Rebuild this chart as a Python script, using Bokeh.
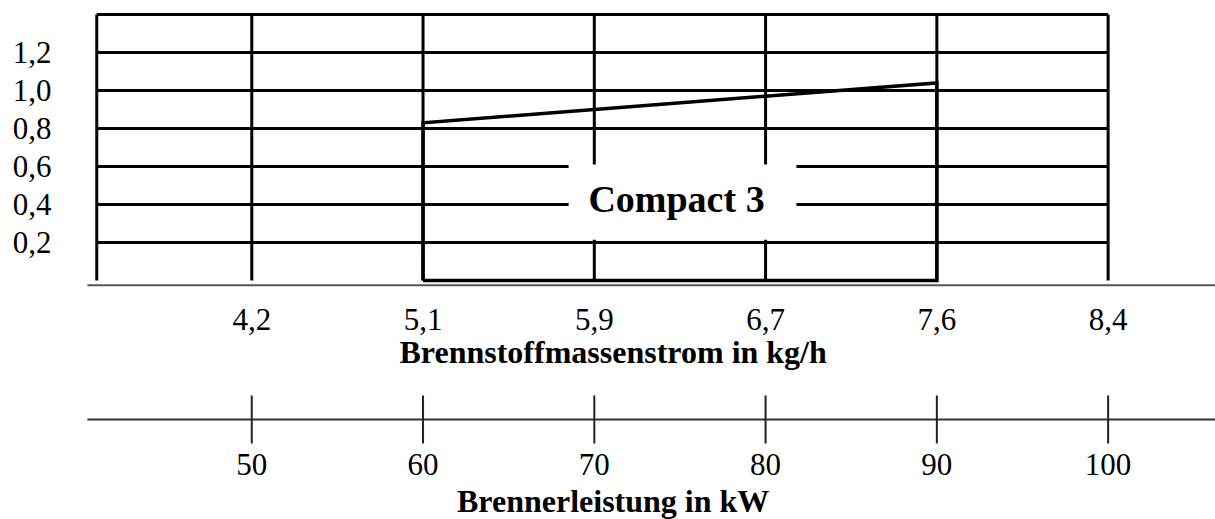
from bokeh.plotting import figure
from bokeh.models import Range1d, FixedTicker
from bokeh.core.properties import value
from bokeh.embed import file_html
from bokeh.resources import INLINE

# ---- data ----
kw_ticks = [50, 60, 70, 80, 90, 100]
kgh_labels = ["4,2", "5,1", "5,9", "6,7", "7,6", "8,4"]
kw_labels = ["50", "60", "70", "80", "90", "100"]
y_ticks = [0.2, 0.4, 0.6, 0.8, 1.0, 1.2]
y_labels = ["0,2", "0,4", "0,6", "0,8", "1,0", "1,2"]
range_kw = [60, 90]          # Compact 3 working range (kW)
range_y = [0.83, 1.04]       # values at range ends
series_name = "Compact 3"
title_kgh = "Brennstoffmassenstrom in kg/h"
title_kw = "Brennerleistung in kW"

# ---- layout constants ----
GRID_LEFT = 40.95
GRID_TOP = 1.4
LINE_LEFT = 40.4
X_END = 106.27
BASE_Y = -0.025
AX2_Y = -0.7316
FONT = value("Liberation Serif")

p = figure(width=1215, height=519, output_backend="svg", toolbar_location=None,
           x_range=Range1d(40, X_END), y_range=Range1d(-1.2579, 1.4737),
           x_axis_location=None, min_border_left=80, min_border_right=0,
           min_border_top=0, min_border_bottom=0)
p.outline_line_color = None
p.xgrid.visible = False
p.ygrid.visible = False
p.background_fill_color = "white"

ya = p.yaxis[0]
ya.ticker = FixedTicker(ticks=y_ticks)
ya.major_label_overrides = {t: l for t, l in zip(y_ticks, y_labels)}
ya.axis_line_color = None
ya.major_tick_line_color = None
ya.minor_tick_line_color = None
ya.major_tick_out = 0
ya.major_tick_in = 0
ya.major_label_standoff = 29
ya.major_label_text_font = "Liberation Serif"
ya.major_label_text_font_size = "31px"
ya.major_label_text_color = "black"

# grid: vertical lines
vx = [GRID_LEFT] + kw_ticks
p.segment(x0=vx, y0=[0] * len(vx), x1=vx, y1=[GRID_TOP] * len(vx),
          line_color="black", line_width=3)
# grid: horizontal lines
hy = y_ticks + [GRID_TOP]
p.segment(x0=[GRID_LEFT] * len(hy), y0=hy, x1=[kw_ticks[-1]] * len(hy), y1=hy,
          line_color="black", line_width=3)

# white label box
p.quad(left=[68.5], right=[81.8], bottom=[0.215], top=[0.61],
       fill_color="white", line_color=None)
p.text(x=[74.8], y=[0.43], text=[series_name], text_font=FONT,
       text_font_size="38px", text_font_style="bold", text_align="center",
       text_baseline="middle", text_color="black")

# Compact 3 outline
p.line(x=[range_kw[0], range_kw[0], range_kw[1], range_kw[1], range_kw[0]],
       y=[0, range_y[0], range_y[1], 0, 0], line_color="black", line_width=3.5,
       line_join="miter")

# first axis (kg/h)
p.segment(x0=[LINE_LEFT], y0=[BASE_Y], x1=[X_END], y1=[BASE_Y],
          line_color="#555555", line_width=2)
p.text(x=kw_ticks, y=[-0.205] * len(kw_ticks), text=kgh_labels, text_font=FONT,
       text_font_size="31px", text_align="center", text_baseline="middle",
       text_color="black")
p.text(x=[71.1], y=[-0.374], text=[title_kgh], text_font=FONT,
       text_font_size="32px", text_font_style="bold", text_align="center",
       text_baseline="middle", text_color="black")

# second axis (kW)
p.segment(x0=[LINE_LEFT], y0=[AX2_Y], x1=[X_END], y1=[AX2_Y],
          line_color="#333333", line_width=2)
p.segment(x0=kw_ticks, y0=[-0.605] * len(kw_ticks), x1=kw_ticks,
          y1=[-0.858] * len(kw_ticks), line_color="#222222", line_width=2)
p.text(x=kw_ticks, y=[-0.968] * len(kw_ticks), text=kw_labels, text_font=FONT,
       text_font_size="31px", text_align="center", text_baseline="middle",
       text_color="black")
p.text(x=[71.1], y=[-1.16], text=[title_kw], text_font=FONT,
       text_font_size="32px", text_font_style="bold", text_align="center",
       text_baseline="middle", text_color="black")

open("out.html", "w").write(file_html(p, INLINE))
